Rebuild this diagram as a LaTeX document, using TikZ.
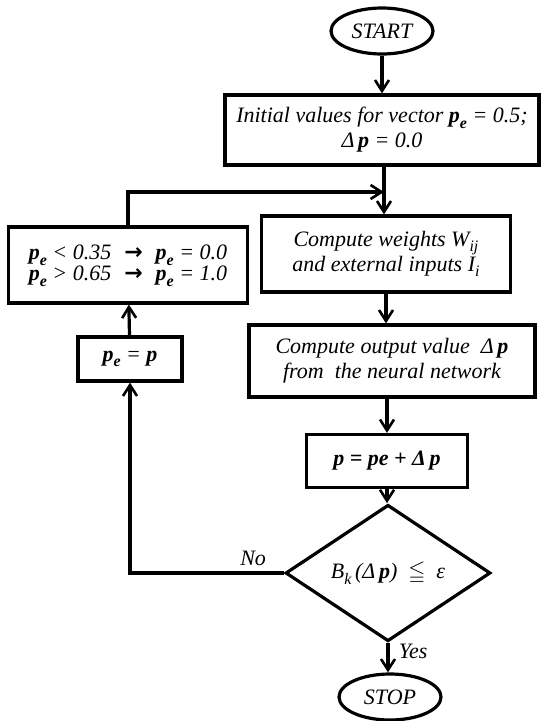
\documentclass[tikz,border=0pt]{standalone}
\usepackage{fontspec}
\setmainfont{Liberation Serif}
\newfontfamily\symfont{DejaVu Sans}
\usepackage{amssymb}
\usetikzlibrary{arrows.meta, shapes.geometric}

\newcommand{\lowsub}[1]{\raisebox{-0.55ex}{\fontsize{16}{16}\selectfont #1}}
\newcommand{\pvec}{\textbf{p}}
\newcommand{\pe}{\textbf{p\lowsub{e}}}
\newcommand{\rarr}{{\symfont\bfseries →}}

\begin{document}
\begin{tikzpicture}[x=1pt, y=-1pt,
    every node/.style={font=\fontsize{22}{25}\selectfont\itshape},
    box/.style={rectangle, draw, line width=3.2pt, align=center, inner sep=3pt},
    terminal/.style={ellipse, draw, line width=3.2pt, inner sep=0pt,
                     minimum width=102pt, minimum height=46pt},
    decision/.style={diamond, draw, line width=3.2pt, inner sep=0pt,
                     minimum width=205pt, minimum height=93pt},
    arr/.style={-{Straight Barb[length=11pt, width=14pt, line width=2.6pt]}, line width=3.2pt}
  ]
    \useasboundingbox (0,0) rectangle (541,721);

    \node[terminal] (start) at (382,31) {START};
    \node[box, minimum width=314pt, minimum height=70pt] (init) at (382,130)
      {Initial values for vector \pe{} = 0.5;\\ Δ\,\pvec{} = 0.0};
    \node[box, minimum width=249pt, minimum height=76pt] (weights) at (386,254)
      {Compute weights W\lowsub{ij}\\ and external inputs I\lowsub{i}};
    \node[box, minimum width=286pt, minimum height=72pt] (output) at (392,361)
      {Compute output value~ Δ\,\pvec\\ from~ the neural network};
    \node[box, minimum width=161pt, minimum height=53pt] (update) at (387,461)
      {\bfseries p = pe + Δ\,p};
    \node[decision] (test) at (388,573)
      {B\lowsub{k}\,(Δ\,\pvec)~ $\leqq$~ ε};
    \node[terminal] (stop) at (390,697) {STOP};

    \node[box, minimum width=239pt, minimum height=76pt] (clip) at (128,265)
      {\begin{tabular}{@{}l@{\hspace{13pt}}c@{\hspace{13pt}}l@{}}
         \pe{} < 0.35 & \rarr & \pe{} = 0.0\\[-4pt]
         \pe{} > 0.65 & \rarr & \pe{} = 1.0
       \end{tabular}};
    \node[box, minimum width=104pt, minimum height=44pt] (copy) at (130,359)
      {\pe{} = \pvec};

    \coordinate (join) at (384,192);

    % main column
    \draw[arr] (start) -- (start |- init.north);
    \draw[arr] (init.south -| join) -- (join |- weights.north);
    \draw[arr] (weights) -- (weights.south |- output.north);
    \draw[arr] (output.south -| update) -- (update);
    \draw[arr] (update) -- (update.south |- test.north);
    \draw[arr] (test) -- node[right, pos=0.3, xshift=6pt] {Yes} (test.south |- stop.north);

    % feedback loop
    \draw[arr] (test.west) -| node[above, pos=0.1, yshift=2pt] {No} (copy.south);
    \draw[arr] (copy) -- (clip);
    \draw[arr] (clip.north) |- (join);
  \end{tikzpicture}
\end{document}
